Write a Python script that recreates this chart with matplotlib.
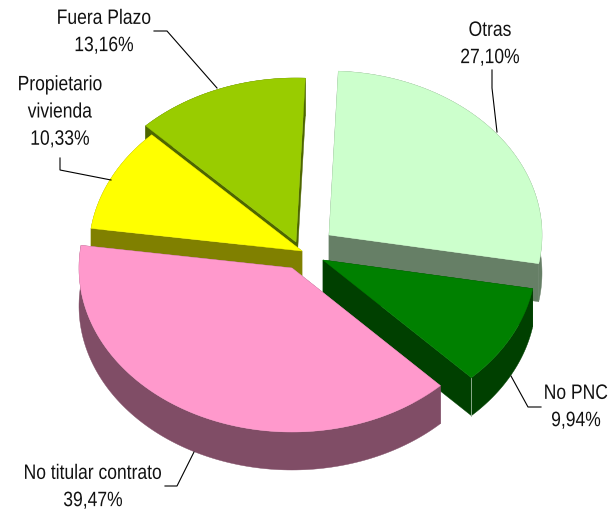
import numpy as np
import matplotlib
matplotlib.use("Agg")
import matplotlib.pyplot as plt
from matplotlib.patches import Polygon
from matplotlib.patheffects import AbstractPathEffect
from matplotlib.transforms import Affine2D

# =========================
# DATA
# =========================
names = ["Otras", "No PNC", "No titular contrato", "Propietario\nvivienda", "Fuera Plazo"]
values = [27.10, 9.94, 39.47, 10.33, 13.16]
top_colors = ["#CCFFCC", "#008000", "#FF99CC", "#FFFF00", "#99CC00"]
side_colors = ["#667F66", "#004000", "#804D66", "#808000", "#4D6600"]

# =========================
# LAYOUT (pixels)
# =========================
W, H = 611, 512
RX, RY = 213, 164
DEPTH = 38
START_DEG = 2.5
apex_xy = [(329, 235), (323, 260), (292, 268), (302, 251), (296, 242)]
draw_order = [0, 4, 3, 1, 2]
label_xy = [(490, 44), (576, 407), (93, 487), (60, 112), (104, 32)]
leaders = [
    [(492, 70), (492, 88), (497, 132)],
    [(541, 407), (528, 407), (511, 376)],
    [(165, 486), (177, 486), (194, 452)],
    [(60, 158), (60, 170), (111, 180)],
    [(154, 31), (167, 31), (217, 88)],
]
TEXT_SQUEEZE = 0.84  # no narrow Arial here, so squeeze Liberation Sans


class Narrow(AbstractPathEffect):
    # squeeze the glyphs sideways around a fixed x (display coords)
    def __init__(self, cx, scale):
        super().__init__()
        self.cx = cx
        self.scale = scale

    def draw_path(self, renderer, gc, tpath, affine, rgbFace=None):
        squeeze = Affine2D().translate(-self.cx, 0).scale(self.scale, 1).translate(self.cx, 0)
        renderer.draw_path(gc, tpath, affine + squeeze, rgbFace)


fig = plt.figure(figsize=(W / 100, H / 100), dpi=100)
ax = fig.add_axes([0, 0, 1, 1])
ax.set_xlim(0, W)
ax.set_ylim(H, 0)
ax.axis("off")

edges = START_DEG + np.cumsum([0] + values) * 3.6


def arc(i, n=120):
    t = np.radians(np.linspace(edges[i], edges[i + 1], n))
    x0, y0 = apex_xy[i]
    return np.column_stack([x0 + RX * np.sin(t), y0 - RY * np.cos(t)])


for i in draw_order:
    pts = arc(i)
    apex = np.array(apex_xy[i], dtype=float)
    down = np.array([0, DEPTH])
    side = side_colors[i]
    for p in (pts[0], pts[-1]):
        face = [apex, p, p + down, apex + down]
        ax.add_patch(Polygon(face, closed=True, fc=side, ec=side, lw=0.3))
    wall = np.vstack([pts, (pts + down)[::-1]])
    ax.add_patch(Polygon(wall, closed=True, fc=side, ec=side, lw=0.3))
    top = np.vstack([apex, pts])
    ax.add_patch(Polygon(top, closed=True, fc=top_colors[i], ec=top_colors[i], lw=0.3))

# thin pale corner on the No PNC slice
p = arc(1)[-1]
ax.plot([p[0], p[0]], [p[1], p[1] + DEPTH], color="#9DB89D", lw=0.6)

for line in leaders:
    xs, ys = zip(*line)
    ax.plot(xs, ys, color="black", lw=0.8, solid_joinstyle="miter")

for name, val, (x, y) in zip(names, values, label_xy):
    txt = name + "\n" + f"{val:.2f}".replace(".", ",") + "%"
    # keep the unsqueezed box inside the canvas, the squeeze lands it back on x
    anchor_x = min(x, W - 39)
    cx = (x - TEXT_SQUEEZE * anchor_x) / (1 - TEXT_SQUEEZE)
    t = ax.text(anchor_x, y, txt, ha="center", va="center", family=["Liberation Sans", "DejaVu Sans"],
                fontsize=15, color="#111111", linespacing=1.55)
    t.set_path_effects([Narrow(cx, TEXT_SQUEEZE)])

fig.savefig("out.png", dpi=100)
